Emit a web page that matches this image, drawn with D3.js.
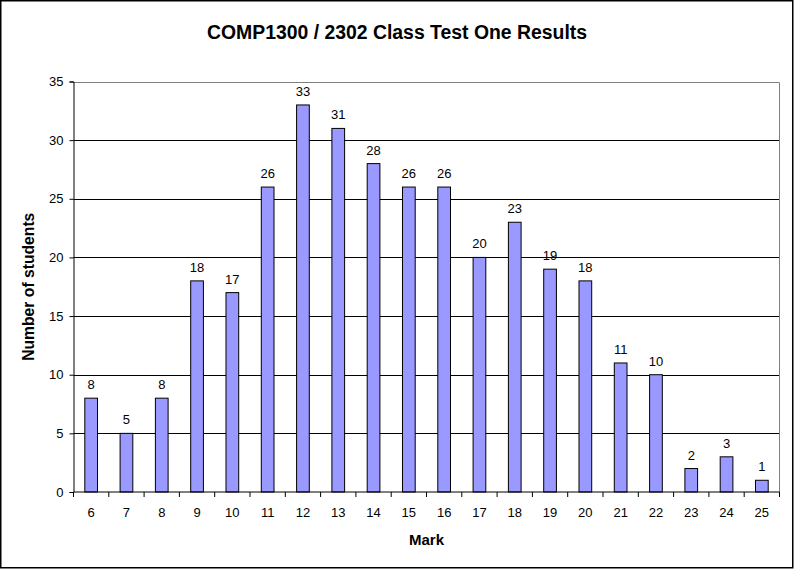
<!DOCTYPE html>
<html><head><meta charset="utf-8">
<script src="https://cdn.jsdelivr.net/npm/d3@7"></script>
<style>body{margin:0;background:#fff;} svg{display:block;} text{font-family:"Liberation Sans",Arial,sans-serif;}</style>
</head><body>
<script>
const marks = ["6","7","8","9","10","11","12","13","14","15","16","17","18","19","20","21","22","23","24","25"];
const counts = [8,5,8,18,17,26,33,31,28,26,26,20,23,19,18,11,10,2,3,1];
const yTicks = [0,5,10,15,20,25,30,35];
const title = "COMP1300 / 2302 Class Test One Results";
const xTitle = "Mark";
const yTitle = "Number of students";

const W = 794, H = 569;
const pl = 73.5, pr = 779.5, pt = 81.5, pb = 492;
const svg = d3.select("body").append("svg").attr("width", W).attr("height", H);
svg.append("rect").attr("x",0).attr("y",0).attr("width",W).attr("height",H).attr("fill","#fff");
svg.append("rect").attr("x",0.75).attr("y",0.75).attr("width",792).attr("height",567)
  .attr("fill","none").attr("stroke","#000").attr("stroke-width",1.5);

const x = d3.scaleBand().domain(marks).range([pl, pr]).paddingInner(0.64).paddingOuter(0.32);
const xb = d3.scaleBand().domain(marks).range([pl, pr]);
const y = d3.scaleLinear().domain([0,35]).range([pb, pt]);

// gridlines
svg.append("g").selectAll("line").data(yTicks.filter(d=>d>0 && d<35)).join("line")
  .attr("x1", pl).attr("x2", pr).attr("y1", d=>Math.round(y(d))+0.5).attr("y2", d=>Math.round(y(d))+0.5)
  .attr("stroke","#000").attr("stroke-width",1);
// plot border top/right gray
svg.append("path").attr("d", `M${pl},${Math.round(pt)+0.5}H${pr}V${pb}`).attr("fill","none").attr("stroke","#808080").attr("stroke-width",1);

// bars
svg.append("g").selectAll("rect").data(counts).join("rect")
  .attr("x", (d,i)=>x(marks[i])).attr("width", x.bandwidth())
  .attr("y", d=>y(d)).attr("height", d=>pb - y(d))
  .attr("fill","#9999ff").attr("stroke","#000").attr("stroke-width",1);

// data labels
svg.append("g").selectAll("text").data(counts).join("text")
  .attr("x", (d,i)=>x(marks[i]) + x.bandwidth()/2).attr("y", d=>y(d)-9)
  .attr("text-anchor","middle").attr("font-size",13).attr("fill","#000").text(d=>d);

// y axis
const ya = d3.axisLeft(y).tickValues(yTicks).tickSize(4).tickPadding(6);
const gy = svg.append("g").attr("transform",`translate(${pl},0)`).call(ya);
gy.select(".domain").attr("stroke","#000");
gy.selectAll(".tick line").attr("stroke","#000");
gy.selectAll("text").attr("font-size",13).attr("font-family","Liberation Sans, Arial, sans-serif").attr("fill","#000");

// x axis
const xa = d3.axisBottom(xb).tickSize(0).tickPadding(16);
const gx = svg.append("g").attr("transform",`translate(0,${pb})`).call(xa);
gx.select(".domain").remove();
gx.selectAll("text").attr("font-size",13).attr("font-family","Liberation Sans, Arial, sans-serif").attr("fill","#000");
gx.append("line").attr("x1",pl).attr("x2",pr).attr("y1",0).attr("y2",0).attr("stroke","#000");
gx.selectAll("line.bt").data(marks.concat(["end"])).join("line").attr("class","bt")
  .attr("x1",(d,i)=> i<marks.length ? xb(d) : pr).attr("x2",(d,i)=> i<marks.length ? xb(d) : pr)
  .attr("y1",0).attr("y2",5).attr("stroke","#000");

// titles
svg.append("text").attr("x",397).attr("y",39).attr("text-anchor","middle")
  .attr("font-size",19.4).attr("font-weight","bold").text(title);
svg.append("text").attr("x",(pl+pr)/2).attr("y",545).attr("text-anchor","middle")
  .attr("font-size",15).attr("font-weight","bold").text(xTitle);
svg.append("text").attr("transform",`translate(34,${(pt+pb)/2}) rotate(-90)`).attr("text-anchor","middle")
  .attr("font-size",15.7).attr("font-weight","bold").text(yTitle);
</script>
</body></html>
